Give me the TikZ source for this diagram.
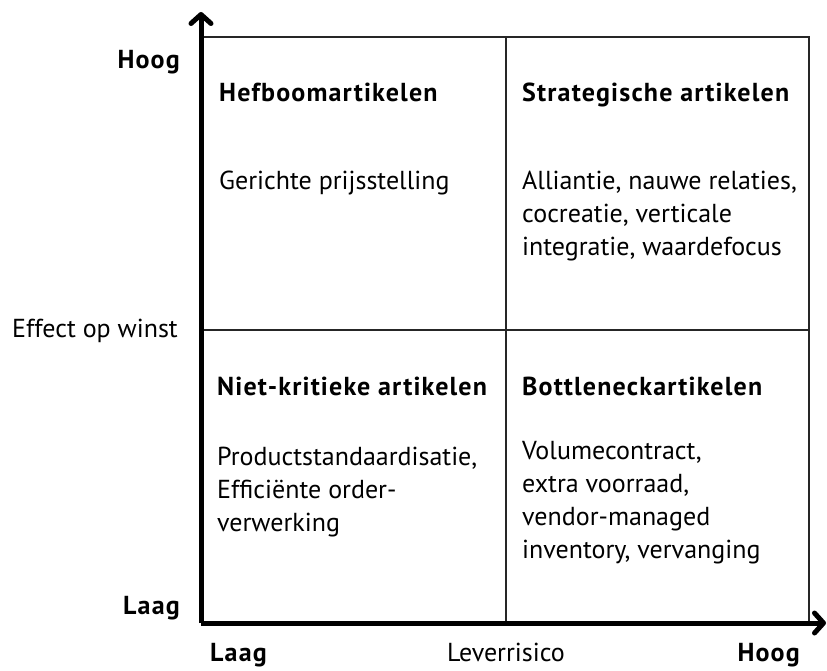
\documentclass[tikz,border=0pt]{standalone}
\usepackage{fontspec}
\setmainfont{PT Sans}[BoldFeatures={LetterSpace=4.5}]
\usetikzlibrary{arrows.meta}
\begin{document}
\begin{tikzpicture}[x=1pt,y=-1pt,
  axis/.style={line width=5pt,-{Straight Barb[length=9pt,width=20pt,round]}},
  grid/.style={line width=2pt,draw=black!85},
  lbl/.style={inner sep=0pt,font=\fontsize{26}{33}\selectfont},
  bold/.style={lbl,font=\fontsize{26}{33}\selectfont\bfseries},
  body/.style={lbl,align=left}]
\useasboundingbox (0,0) rectangle (827,671);
\coordinate (O) at (201,623);
\coordinate (ytip) at (201,12);
\coordinate (xtip) at (826,623);
\coordinate (tl) at (201,37);
\coordinate (tm) at (506,37);
\coordinate (tr) at (809,37);
\coordinate (ml) at (201,330);
\coordinate (mr) at (809,330);
\coordinate (bm) at (506,623);
\coordinate (br) at (809,623);
\draw[grid] (tl) -- (tr) -- (br);
\draw[grid] (tm) -- (bm);
\draw[grid] (ml) -- (mr);
\draw[axis,line cap=butt] (O) -- (ytip);
\draw[axis,line cap=butt] (O) -- (xtip);
% axis labels
\node[bold,anchor=base east] (yhigh) at (180,69) {Hoog};
\node[bold,anchor=base east] (ylow) at (180,614) {Laag};
\node[lbl,anchor=base east] (ytitle) at (178,337) {Effect op winst};
\node[bold,anchor=base west] (xlow) at (210,661) {Laag};
\node[lbl,anchor=base] (xtitle) at (506,661) {Leverrisico};
\node[bold,anchor=base east] (xhigh) at (800,661) {Hoog};
% quadrants
\node[bold,anchor=base west] (q1t) at (219,102) {Hefboomartikelen};
\node[body,anchor=base west] (q1b) at (219,190) {Gerichte prijsstelling};
\node[bold,anchor=base west] (q2t) at (522,102) {Strategische artikelen};
\node[body,anchor=base west] (q2b) at (522,255) {Alliantie, nauwe relaties,\\cocreatie, verticale\\integratie, waardefocus};
\node[bold,anchor=base west] (q3t) at (217,395) {Niet-kritieke artikelen};
\node[body,anchor=base west] (q3b) at (217,531) {Productstandaardisatie,\\Efficiënte order-\\verwerking};
\node[bold,anchor=base west] (q4t) at (522,395) {Bottleneckartikelen};
\node[body,anchor=base west] (q4b) at (522,558) {Volumecontract,\\extra voorraad,\\vendor-managed\\inventory, vervanging};
\end{tikzpicture}
\end{document}
